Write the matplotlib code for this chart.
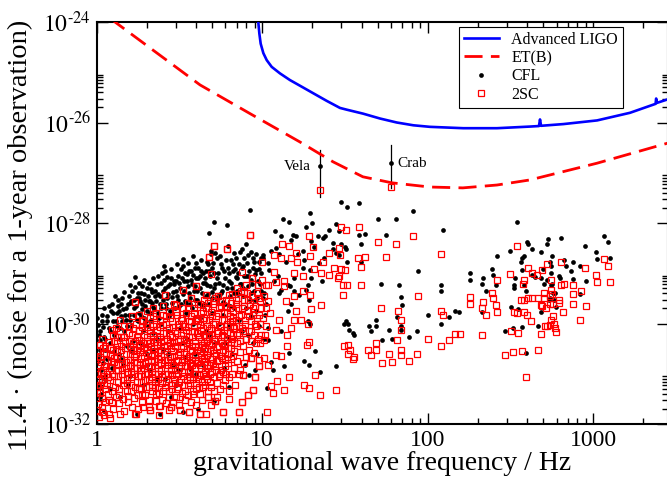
import matplotlib
matplotlib.use("Agg")
import matplotlib.pyplot as plt
from matplotlib.ticker import FixedLocator, NullFormatter, LogLocator

plt.rcParams['font.family'] = ['Liberation Serif', 'DejaVu Serif']
plt.rcParams['mathtext.fontset'] = 'stix'

# detector noise curves
aligo_freq = [9.35, 9.47, 9.61, 9.79, 10.16, 10.65, 11.41, 12.8, 14.7, 16.9, 20.4, 24.5, 29.5,
              32.4, 40.7, 51.5, 65, 81.9, 103, 164, 262, 415, 470, 477, 484, 660, 1055, 1668,
              2380, 2400, 2420, 2830]
aligo_h = [3e-24, 1.0e-24, 5.9e-25, 3.7e-25, 2.4e-25, 1.74e-25, 1.28e-25, 9.5e-26, 7.0e-26,
           5.4e-26, 3.8e-26, 2.7e-26, 1.95e-26, 1.8e-26, 1.5e-26, 1.2e-26, 1.0e-26, 8.8e-27,
           8.2e-27, 7.7e-27, 7.7e-27, 8.3e-27, 8.5e-27, 1.15e-26, 8.6e-27, 9.3e-27, 1.1e-26,
           1.56e-26, 2.35e-26, 3.0e-26, 2.45e-26, 2.9e-26]

etb_freq = [1.2, 1.29, 4.21, 8.45, 16.9, 26.8, 40.6, 60.8, 103, 163, 262, 415, 1055, 2830]
etb_h = [1.2e-24, 1.0e-24, 5.6e-26, 1.5e-26, 4.1e-27, 1.65e-27, 8.3e-28, 6.3e-28, 5.2e-28,
         5.0e-28, 5.7e-28, 7.2e-28, 1.55e-27, 3.9e-27]

# known pulsars
pulsar_names = ['Vela', 'Crab']
pulsar_freq = [22.4, 59.6]
pulsar_cfl = [1.36e-27, 1.55e-27]
pulsar_2sc = [4.6e-28, 5.2e-28]
pulsar_lo = [3.3e-28, 5.0e-28]
pulsar_hi = [2.8e-27, 3.5e-27]

# CFL stars (frequency in Hz, strain)
cfl_low = [
    (1.02, 9.5e-31), (1.04, 4.6e-31), (1.05, 7.0e-31), (1.03, 2.2e-31), (1.06, 1.2e-31),
    (1.02, 6.0e-32), (1.08, 1.1e-30), (1.10, 5.5e-31), (1.12, 3.0e-31), (1.09, 1.6e-31),
    (1.04, 3.5e-32), (1.13, 8.0e-32), (1.15, 1.4e-30), (1.18, 8.0e-31), (1.20, 4.0e-31),
    (1.16, 2.0e-31), (1.22, 1.8e-30), (1.23, 2.5e-30), (1.25, 1.1e-30), (1.27, 6.0e-31),
    (1.24, 1.3e-31), (1.28, 2.8e-31), (1.10, 1.8e-32), (1.20, 5.0e-32),
    (1.32, 1.6e-30), (1.35, 2.2e-30), (1.33, 9.0e-31), (1.38, 5.0e-31), (1.36, 2.5e-31),
    (1.40, 1.4e-30), (1.42, 3.2e-30), (1.45, 1.9e-30), (1.47, 7.0e-31), (1.50, 1.2e-30),
    (1.52, 3.5e-31), (1.55, 2.4e-30), (1.58, 2.6e-30), (1.60, 5.8e-30), (1.57, 1.5e-30),
    (1.62, 9.0e-31), (1.65, 4.5e-31), (1.68, 2.0e-30), (1.70, 8.6e-30), (1.71, 5.4e-30),
    (1.44, 1.5e-31), (1.60, 9.0e-32), (1.75, 1.6e-32), (1.38, 3.5e-32),
    (1.75, 3.2e-30), (1.80, 1.6e-30), (1.78, 1.1e-30), (1.85, 4.0e-30), (1.88, 2.4e-30),
    (1.90, 7.0e-31), (1.93, 1.3e-30), (1.95, 3.0e-30), (2.00, 5.0e-30), (2.02, 1.8e-30),
    (2.05, 9.0e-31), (2.08, 2.8e-30), (2.12, 1.2e-30), (2.15, 4.2e-30), (2.18, 2.1e-30),
    (2.20, 6.5e-31), (1.82, 4.0e-31), (2.00, 2.5e-31), (2.10, 1.2e-31), (1.90, 6.0e-32),
    (2.40, 1.6e-32), (1.80, 3.2e-30), (2.10, 2.8e-30), (2.40, 3.6e-30),
    (2.25, 3.5e-30), (2.30, 6.0e-30), (2.35, 1.6e-30), (2.42, 2.5e-30), (2.45, 1.0e-30),
    (2.50, 4.5e-30), (2.55, 7.5e-30), (2.60, 1.1e-29), (2.62, 2.0e-30), (2.65, 3.2e-30),
    (2.70, 5.5e-30), (2.75, 1.4e-30), (2.80, 8.0e-30), (2.85, 2.6e-30), (2.90, 4.3e-30),
    (2.95, 6.0e-30), (3.00, 6.9e-30), (2.30, 5.0e-31), (2.50, 3.0e-31), (2.70, 7.0e-31),
    (2.90, 1.5e-31), (2.60, 8.0e-32), (2.80, 3.5e-32), (3.30, 1.7e-32),
    (3.05, 3.5e-30), (3.10, 9.0e-30), (3.15, 2.2e-30), (3.20, 5.0e-30), (3.25, 1.2e-29),
    (3.30, 1.4e-29), (3.32, 3.9e-30), (3.35, 7.0e-30), (3.40, 2.8e-30), (3.45, 1.6e-30),
    (3.50, 9.5e-30), (3.55, 5.5e-30), (3.60, 1.1e-29), (3.65, 3.2e-30), (3.70, 7.5e-30),
    (3.75, 2.0e-30), (3.80, 9.1e-30), (3.85, 4.5e-30), (3.90, 5.6e-30), (3.95, 1.3e-29),
    (4.00, 1.6e-29), (3.20, 8.0e-31), (3.50, 5.0e-31), (3.80, 1.0e-30), (3.40, 2.2e-31),
    (3.70, 1.2e-31), (4.10, 2.0e-32),
    (4.05, 3.0e-30), (4.10, 8.0e-30), (4.20, 5.0e-30), (4.25, 1.1e-29), (4.30, 2.2e-30),
    (4.40, 6.5e-30), (4.50, 7.9e-30), (4.55, 3.5e-30), (4.60, 1.1e-29), (4.62, 5.8e-30),
    (4.70, 1.5e-29), (4.75, 2.5e-30), (4.80, 6.3e-29), (4.85, 9.0e-30), (4.90, 2.8e-29),
    (4.95, 4.2e-30), (5.00, 1.3e-29), (5.10, 1.07e-28), (5.12, 1.0e-29), (5.20, 6.0e-30),
    (5.30, 7.9e-30), (5.35, 2.0e-29), (5.40, 3.5e-30), (4.20, 1.3e-30), (4.60, 7.0e-31),
    (5.00, 1.6e-30), (4.40, 3.0e-31), (5.20, 4.0e-31), (5.10, 2.9e-32),
    (5.60, 1.5e-29), (5.70, 4.5e-30), (5.80, 5.8e-30), (5.90, 1.1e-29), (6.00, 2.5e-30),
    (6.10, 9.0e-29), (6.20, 1.26e-29), (6.30, 7.0e-30), (6.40, 3.5e-30), (6.50, 1.8e-29),
    (6.60, 5.0e-30), (6.70, 1.1e-29), (6.80, 2.5e-29), (6.90, 8.5e-30), (7.00, 7.9e-30),
    (7.10, 3.8e-30), (7.20, 1.5e-29), (7.30, 6.0e-30), (7.50, 3.1e-29), (5.80, 1.5e-30),
    (6.30, 9.0e-31), (6.80, 2.0e-30), (7.20, 1.2e-30), (6.00, 4.0e-31), (6.30, 5.5e-32),
    (7.70, 1.4e-29), (7.70, 5.0e-30), (7.80, 2.0e-29), (8.00, 9.0e-30), (8.20, 2.3e-29),
    (8.25, 8.7e-30), (8.40, 1.8e-28), (8.50, 4.0e-30), (8.60, 2.7e-29), (8.70, 6.0e-30),
    (8.80, 1.3e-29), (8.90, 1.7e-29), (9.00, 3.0e-30), (9.20, 1.15e-29), (9.40, 7.0e-30),
    (9.60, 1.7e-29), (9.80, 4.5e-30), (9.90, 1.0e-29), (8.00, 2.0e-30), (8.60, 1.4e-30),
    (8.30, 9.6e-32), (9.10, 1.2e-31), (9.20, 1.8e-30), (8.20, 6.0e-31), (9.50, 9.0e-31),
    # denser part of the cloud
    (1.01, 1.3e-30), (1.03, 6.0e-31), (1.05, 3.0e-31), (1.07, 1.5e-30), (1.09, 8.5e-31),
    (1.11, 2.0e-30), (1.13, 5.0e-31), (1.16, 1.1e-30), (1.19, 2.2e-30), (1.21, 7.0e-31),
    (1.26, 1.6e-30), (1.29, 3.5e-30), (1.02, 1.8e-31), (1.12, 9.0e-32), (1.06, 4.0e-32),
    (1.31, 1.1e-30), (1.34, 3.0e-30), (1.37, 1.8e-30), (1.39, 8.0e-31), (1.41, 2.5e-30),
    (1.43, 1.1e-30), (1.46, 4.2e-30), (1.48, 1.5e-30), (1.51, 2.0e-30), (1.53, 9.0e-31),
    (1.56, 3.5e-30), (1.59, 1.2e-30), (1.61, 2.8e-30), (1.64, 4.5e-30), (1.67, 1.5e-30),
    (1.69, 3.0e-30), (1.72, 2.2e-30), (1.74, 1.2e-30), (1.77, 4.0e-30), (1.79, 6.5e-30),
    (1.40, 2.0e-31), (1.55, 6.0e-32), (1.62, 3.0e-31),
    (1.82, 2.8e-30), (1.84, 1.4e-30), (1.87, 5.5e-30), (1.89, 1.9e-30), (1.92, 3.8e-30),
    (1.94, 7.5e-30), (1.97, 2.2e-30), (1.99, 1.1e-30), (2.03, 3.5e-30), (2.06, 6.5e-30),
    (2.09, 1.6e-30), (2.13, 4.8e-30), (2.16, 2.6e-30), (2.19, 8.0e-30), (2.23, 1.9e-30),
    (2.26, 4.5e-30), (2.29, 2.8e-30), (2.33, 9.0e-30), (2.36, 3.8e-30), (2.39, 1.3e-30),
    (2.43, 6.5e-30), (2.46, 2.0e-30), (2.49, 1.0e-29), (2.01, 1.5e-31), (2.30, 8.0e-32),
    (2.20, 3.0e-31),
    (2.52, 3.0e-30), (2.56, 1.4e-29), (2.59, 5.0e-30), (2.63, 2.4e-30), (2.67, 8.5e-30),
    (2.71, 3.8e-30), (2.76, 1.8e-30), (2.79, 6.0e-30), (2.83, 1.2e-29), (2.87, 3.3e-30),
    (2.92, 7.0e-30), (2.96, 2.0e-30), (3.01, 4.5e-30), (3.06, 1.5e-29), (3.11, 3.0e-30),
    (3.16, 6.5e-30), (3.21, 2.5e-30), (3.26, 8.0e-30), (3.31, 1.9e-29), (3.36, 4.5e-30),
    (3.41, 1.0e-29), (3.46, 2.6e-30), (2.70, 2.5e-31), (3.10, 1.2e-31), (3.00, 6.0e-32),
    (3.30, 4.0e-31),
    (3.51, 7.0e-30), (3.56, 1.6e-29), (3.62, 4.0e-30), (3.67, 2.4e-30), (3.73, 1.1e-29),
    (3.78, 6.0e-30), (3.84, 2.2e-29), (3.91, 3.0e-30), (3.96, 8.0e-30), (4.02, 4.5e-30),
    (4.08, 1.3e-29), (4.14, 2.6e-30), (4.21, 9.0e-30), (4.27, 1.8e-29), (4.33, 4.0e-30),
    (4.41, 1.0e-29), (4.47, 2.5e-30), (4.54, 6.5e-30), (4.61, 1.7e-29), (4.68, 3.8e-30),
    (4.76, 1.1e-29), (4.84, 5.5e-30), (4.92, 2.4e-29), (4.99, 3.2e-30), (3.90, 2.5e-31),
    (4.40, 1.5e-31), (4.80, 6.0e-31), (4.00, 1.0e-31),
    (5.06, 1.6e-29), (5.14, 5.0e-30), (5.22, 2.5e-29), (5.31, 3.0e-30), (5.38, 1.0e-29),
    (5.47, 6.5e-30), (5.55, 2.2e-29), (5.64, 4.0e-30), (5.73, 1.3e-29), (5.82, 2.7e-30),
    (5.92, 8.0e-30), (6.01, 1.8e-29), (6.11, 5.0e-30), (6.21, 3.5e-29), (6.31, 1.0e-29),
    (6.41, 2.2e-30), (6.52, 6.5e-30), (6.62, 1.5e-29), (6.73, 4.0e-30), (6.84, 1.2e-29),
    (6.95, 2.0e-29), (5.50, 1.0e-30), (6.20, 5.5e-31), (6.60, 2.5e-31), (5.90, 1.3e-31),
    (7.06, 4.5e-30), (7.18, 1.0e-29), (7.31, 2.6e-29), (7.42, 6.0e-30), (7.54, 1.3e-29),
    (7.67, 3.5e-30), (7.81, 9.0e-30), (7.93, 3.8e-29), (8.06, 1.6e-29), (8.19, 5.5e-30),
    (8.33, 1.1e-29), (8.47, 3.0e-30), (8.61, 7.5e-30), (8.75, 2.0e-29), (8.91, 4.5e-30),
    (9.05, 9.5e-30), (9.21, 2.4e-29), (9.35, 3.2e-30), (9.51, 1.2e-29), (9.65, 6.0e-30),
    (9.81, 2.0e-29), (7.50, 7.0e-31), (8.80, 4.0e-31), (9.30, 2.5e-31), (7.90, 1.5e-31),
]
cfl_mid = [
    (29.9, 2.6e-28), (32.5, 2.1e-28), (38.4, 2.5e-28), (19.4, 1.6e-28), (81.2, 1.7e-28),
    (13.4, 1.2e-28), (14.5, 1.07e-28), (20.0, 1.0e-28), (50.0, 1.2e-28), (64.1, 1.2e-28),
    (18.4, 8.5e-29), (27.9, 9.5e-29), (25.4, 7.4e-29), (12.0, 6.8e-29), (13.0, 5.4e-29),
    (15.3, 5.9e-29), (16.0, 5.4e-29), (14.9, 4.5e-29), (21.7, 5.4e-29), (23.2, 5.1e-29),
    (23.9, 5.4e-29), (38.4, 5.9e-29), (41.7, 6.1e-29), (55.8, 5.9e-29), (29.1, 6.8e-29),
    (19.7, 4.3e-29), (20.6, 3.4e-29), (12.1, 3.2e-29), (11.3, 2.8e-29), (17.7, 2.8e-29),
    (10.1, 2.3e-29), (12.7, 2.4e-29), (16.4, 2.4e-29), (26.8, 3.1e-29), (32.0, 3.0e-29),
    (31.6, 3.4e-29), (39.5, 3.9e-29), (26.7, 4.0e-29), (30.0, 3.8e-29), (23.5, 2.0e-29),
    (22.0, 1.6e-29), (10.9, 1.6e-29), (14.0, 1.7e-29), (17.9, 1.8e-29), (32.5, 1.7e-29),
    (39.5, 1.65e-29), (28.0, 2.5e-29), (29.0, 2.3e-29), (11.0, 1.15e-29), (17.7, 1.26e-29),
    (19.4, 1.15e-29), (87.1, 1.1e-29), (12.5, 8.7e-30), (15.6, 7.9e-30), (19.7, 7.9e-30),
    (18.9, 5.8e-30), (14.3, 5.8e-30), (52.1, 6.0e-30), (66.9, 5.8e-30), (11.8, 7.0e-30),
    (14.7, 5.5e-30), (15.6, 4.4e-30), (16.7, 3.7e-30), (22.9, 7.0e-30), (12.7, 4.0e-30),
    (10.1, 3.2e-30), (13.0, 4.6e-30), (18.4, 4.6e-30), (10.1, 2.0e-29), (68.7, 3.4e-30),
    (69.6, 2.3e-30), (14.9, 2.5e-30), (14.3, 1.8e-30), (19.2, 3.0e-30), (65.0, 1.35e-30),
    (18.9, 1.1e-30), (19.4, 1.0e-30), (48.7, 1.2e-30), (48.7, 8.9e-31), (44.1, 8.9e-31),
    (32.0, 1.1e-30), (33.0, 1.0e-30), (31.2, 1.0e-30), (33.4, 7.4e-31), (35.3, 6.5e-31),
    (35.8, 5.9e-31), (45.3, 7.1e-31), (58.5, 7.4e-31), (68.7, 8.9e-31), (68.7, 7.4e-31),
    (85.9, 7.1e-31), (52.7, 4.8e-31), (60.6, 5.0e-31), (77.1, 5.4e-31), (13.0, 7.1e-31),
    (10.9, 4.8e-31), (20.9, 2.9e-31), (14.5, 2.6e-31), (17.9, 1.8e-31), (19.2, 1.5e-31),
    (27.9, 1.4e-31), (13.6, 1.4e-31), (11.3, 1.7e-31), (11.6, 1.2e-31), (22.3, 1.1e-31),
    (10.7, 5.1e-32), (10.2, 4.0e-30), (10.6, 2.5e-30), (10.4, 1.5e-30), (10.9, 8.0e-31),
    (10.3, 5.0e-31),
]
cfl_high = [
    (123, 7.1e-29), (120, 5.8e-30), (121, 4.4e-30), (101, 1.5e-30), (121, 1.0e-30),
    (344, 1.07e-28), (400, 4.1e-29), (405, 3.8e-29), (316, 2.8e-29), (429, 3.0e-29),
    (486, 2.7e-29), (527, 3.9e-29), (264, 2.2e-29), (382, 2.2e-29), (369, 2.0e-29),
    (365, 1.7e-29), (243, 1.2e-29), (372, 1.15e-29), (179, 1.0e-29), (180, 7.2e-30),
    (247, 9.1e-30), (217, 7.9e-30), (337, 7.9e-30), (429, 9.1e-30), (445, 8.5e-30),
    (486, 7.9e-30), (500, 1.2e-29), (212, 6.1e-30), (260, 5.8e-30), (333, 5.8e-30),
    (330, 5.0e-30), (380, 5.8e-30), (390, 4.4e-30), (505, 6.0e-30), (224, 4.4e-30),
    (147, 1.8e-30), (155, 1.7e-30), (134, 1.35e-30), (212, 1.7e-30), (320, 2.1e-30),
    (353, 1.9e-30), (486, 1.7e-30), (326, 8.1e-31), (295, 7.1e-31), (372, 8.5e-31),
    (466, 8.9e-31), (394, 2.6e-31),
    (641, 5.0e-29), (536, 4.8e-29), (1165, 5.4e-29), (1230, 4.1e-29), (895, 3.5e-29),
    (1042, 2.7e-29), (566, 2.2e-29), (1060, 1.9e-29), (1260, 2.0e-29), (550, 1.7e-29),
    (665, 1.8e-29), (750, 1.65e-29), (685, 1.4e-29), (830, 1.4e-29), (553, 1.4e-29),
    (552, 1.0e-29), (737, 1.1e-29), (623, 8.7e-30), (630, 7.9e-30), (752, 7.6e-30),
    (910, 6.9e-30), (523, 7.2e-30), (566, 6.1e-30), (557, 5.8e-30), (590, 4.1e-30),
    (568, 4.1e-30), (550, 3.2e-30), (540, 2.9e-30), (580, 3.0e-30), (830, 3.8e-30),
    (597, 2.1e-30),
]

# 2SC stars (frequency in Hz, strain)
sc_low = [
    (1.01, 3.0e-31), (1.02, 1.5e-31), (1.03, 8.0e-32), (1.01, 4.5e-32), (1.02, 2.5e-32),
    (1.03, 1.4e-32), (1.05, 2.2e-31), (1.06, 1.1e-31), (1.05, 6.0e-32), (1.07, 3.3e-32),
    (1.08, 5.0e-31), (1.10, 2.6e-31), (1.10, 1.4e-31), (1.11, 9.0e-32), (1.12, 5.0e-32),
    (1.10, 1.5e-32), (1.13, 3.5e-31), (1.15, 1.9e-31), (1.16, 1.0e-31), (1.15, 6.5e-32),
    (1.17, 4.0e-32), (1.20, 1.3e-32), (1.19, 4.2e-31), (1.21, 2.4e-31), (1.22, 1.3e-31),
    (1.20, 7.5e-32), (1.23, 2.7e-32), (1.25, 6.0e-31), (1.26, 3.0e-31), (1.27, 1.7e-31),
    (1.28, 9.0e-32), (1.29, 5.5e-32), (1.23, 7.4e-31), (1.08, 1.7e-32),
    (1.31, 8.0e-31), (1.32, 4.0e-31), (1.33, 2.2e-31), (1.34, 1.2e-31), (1.35, 7.0e-32),
    (1.36, 3.8e-32), (1.38, 1.6e-32), (1.38, 1.2e-30), (1.40, 5.5e-31), (1.41, 3.0e-31),
    (1.42, 1.6e-31), (1.43, 1.0e-31), (1.45, 6.0e-32), (1.46, 9.0e-31), (1.48, 4.5e-31),
    (1.50, 2.5e-31), (1.51, 1.3e-31), (1.52, 8.0e-32), (1.53, 4.5e-32), (1.55, 2.7e-32),
    (1.56, 6.5e-31), (1.58, 3.5e-31), (1.60, 1.9e-31), (1.61, 1.1e-31), (1.62, 6.0e-32),
    (1.63, 1.4e-30), (1.65, 8.0e-31), (1.66, 4.0e-31), (1.67, 2.2e-31), (1.68, 1.3e-31),
    (1.69, 3.3e-32), (1.70, 2.7e-30), (1.72, 1.6e-32),
    (1.72, 1.0e-30), (1.74, 5.5e-31), (1.75, 3.0e-31), (1.76, 1.7e-31), (1.78, 9.0e-32),
    (1.79, 5.0e-32), (1.80, 1.5e-30), (1.81, 7.0e-31), (1.83, 3.8e-31), (1.84, 2.1e-31),
    (1.85, 1.2e-31), (1.86, 7.0e-32), (1.88, 4.0e-32), (1.90, 2.2e-32), (1.91, 1.1e-30),
    (1.92, 6.0e-31), (1.94, 3.2e-31), (1.95, 1.6e-31), (1.96, 1.0e-31), (1.98, 5.5e-32),
    (2.00, 1.8e-30), (2.01, 8.5e-31), (2.02, 4.5e-31), (2.04, 2.6e-31), (2.05, 1.4e-31),
    (2.06, 8.0e-32), (2.08, 3.0e-32), (2.10, 1.3e-30), (2.11, 6.5e-31), (2.12, 3.5e-31),
    (2.14, 1.9e-31), (2.15, 1.1e-31), (2.16, 6.0e-32), (2.18, 2.0e-30), (2.20, 9.0e-31),
    (2.21, 4.2e-31), (2.10, 1.9e-32),
    (2.22, 2.4e-31), (2.24, 1.3e-31), (2.25, 7.0e-32), (2.27, 4.0e-32), (2.28, 1.6e-30),
    (2.30, 7.5e-31), (2.32, 3.8e-31), (2.34, 2.0e-31), (2.35, 1.0e-31), (2.37, 5.5e-32),
    (2.38, 2.3e-32), (2.40, 1.2e-30), (2.42, 5.5e-31), (2.44, 3.0e-31), (2.46, 1.6e-31),
    (2.48, 8.5e-32), (2.50, 2.2e-30), (2.51, 4.5e-32), (2.52, 9.5e-31), (2.54, 4.5e-31),
    (2.56, 2.5e-31), (2.58, 1.3e-31), (2.60, 3.7e-30), (2.61, 7.0e-32), (2.62, 1.4e-30),
    (2.64, 6.5e-31), (2.66, 3.5e-31), (2.68, 1.9e-31), (2.70, 1.0e-31), (2.72, 3.5e-32),
    (2.74, 1.8e-30), (2.75, 8.0e-31), (2.77, 4.0e-31), (2.79, 2.2e-31), (2.80, 1.2e-31),
    (2.82, 6.0e-32), (2.80, 2.2e-32), (2.85, 1.1e-30), (2.87, 5.5e-31), (2.89, 2.8e-31),
    (2.90, 1.5e-31), (2.92, 8.0e-32), (2.94, 2.5e-30), (2.96, 7.0e-31), (2.98, 3.5e-31),
    (3.00, 2.3e-30), (3.01, 1.8e-31),
    (3.02, 1.0e-31), (3.04, 5.0e-32), (3.06, 1.5e-30), (3.08, 8.5e-31), (3.10, 4.5e-31),
    (3.12, 2.4e-31), (3.14, 1.3e-31), (3.16, 7.0e-32), (3.18, 3.5e-32), (3.20, 1.9e-32),
    (3.21, 1.2e-30), (3.22, 6.0e-31), (3.25, 3.2e-31), (3.27, 1.7e-31), (3.30, 4.6e-30),
    (3.31, 9.0e-32), (3.32, 2.0e-30), (3.34, 1.0e-30), (3.36, 5.0e-31), (3.38, 2.7e-31),
    (3.40, 1.4e-31), (3.42, 4.5e-32), (3.45, 1.6e-30), (3.47, 7.5e-31), (3.50, 4.0e-31),
    (3.52, 2.1e-31), (3.54, 1.1e-31), (3.56, 6.0e-32), (3.58, 2.6e-30), (3.60, 1.1e-30),
    (3.60, 1.7e-32), (3.62, 5.5e-31), (3.64, 3.0e-31), (3.66, 1.6e-31), (3.68, 8.5e-32),
    (3.70, 3.2e-30), (3.72, 1.4e-30), (3.74, 7.0e-31), (3.76, 3.6e-31), (3.78, 1.9e-31),
    (3.80, 1.0e-31), (3.82, 4.0e-32), (3.85, 2.0e-30), (3.87, 9.0e-31), (3.90, 4.5e-31),
    (3.92, 2.4e-31), (3.94, 1.3e-31), (3.96, 6.5e-32), (3.98, 1.2e-30), (4.00, 5.6e-30),
    (4.02, 3.0e-31), (4.05, 1.6e-31), (4.08, 8.0e-32), (4.10, 2.4e-30), (4.12, 1.1e-30),
    (4.15, 5.5e-31), (4.18, 2.8e-31), (4.20, 1.5e-31), (4.22, 4.0e-32), (4.20, 1.6e-32),
    (4.25, 1.6e-30), (4.28, 7.5e-31), (4.30, 3.8e-31), (4.33, 2.0e-31), (4.36, 1.0e-31),
    (4.40, 5.5e-32), (4.42, 3.0e-30), (4.45, 1.3e-30), (4.48, 6.0e-31), (4.50, 3.2e-31),
    (4.52, 1.7e-31), (4.55, 9.0e-32), (4.58, 2.0e-30), (4.60, 3.7e-30), (4.61, 9.0e-31),
    (4.62, 4.5e-31), (4.65, 2.4e-31), (4.68, 1.3e-31), (4.70, 3.4e-32), (4.72, 2.6e-30),
    (4.75, 1.2e-30), (4.78, 5.5e-31), (4.80, 2.1e-29), (4.81, 2.9e-31), (4.83, 1.5e-31),
    (4.86, 7.0e-32), (4.90, 9.6e-30), (4.91, 1.7e-30), (4.93, 8.0e-31), (4.95, 4.0e-31),
    (4.98, 2.0e-31), (5.00, 1.1e-31), (5.02, 2.4e-30), (5.05, 1.0e-30), (5.10, 3.5e-29),
    (5.11, 5.0e-31), (5.12, 2.6e-31), (5.15, 1.4e-31), (5.20, 2.9e-32), (5.21, 3.2e-30),
    (5.25, 1.4e-30), (5.30, 6.5e-31), (5.32, 3.4e-31), (5.35, 1.8e-31), (5.40, 3.6e-30),
    (5.45, 9.0e-32), (5.50, 2.0e-30), (4.60, 1.6e-32),
    (5.55, 9.0e-31), (5.60, 4.5e-31), (5.62, 2.3e-31), (5.65, 1.2e-31), (5.70, 2.8e-30),
    (5.72, 1.2e-30), (5.75, 6.0e-31), (5.80, 1.7e-32), (5.81, 3.0e-31), (5.85, 1.6e-30),
    (5.88, 7.5e-31), (5.90, 3.8e-31), (5.95, 2.0e-31), (6.00, 1.0e-31), (6.05, 2.2e-30),
    (6.10, 3.0e-29), (6.11, 1.0e-30), (6.15, 5.0e-31), (6.20, 2.5e-31), (6.30, 3.7e-30),
    (6.31, 3.2e-32), (6.35, 1.4e-30), (6.40, 6.5e-31), (6.45, 3.2e-31), (6.50, 2.6e-30),
    (6.55, 1.1e-30), (6.60, 5.0e-31), (6.65, 2.3e-31), (6.70, 1.8e-30), (6.75, 8.0e-31),
    (6.80, 4.0e-31), (6.90, 3.0e-30), (6.95, 1.2e-30), (7.00, 5.8e-31), (7.01, 5.0e-30),
    (7.10, 2.0e-30), (7.20, 1.7e-32), (7.21, 9.0e-31), (7.22, 1.0e-31), (7.30, 4.5e-31),
    (7.40, 1.5e-30), (7.50, 1.05e-29),
    (7.60, 2.8e-32), (7.70, 9.6e-32), (7.61, 7.0e-31), (7.80, 4.3e-30), (7.81, 2.2e-30),
    (7.90, 1.0e-30), (8.00, 5.0e-31), (8.02, 5.8e-30), (8.20, 3.8e-32), (8.21, 3.0e-30),
    (8.30, 1.4e-30), (8.40, 5.9e-29), (8.50, 7.0e-31), (8.60, 2.1e-31), (8.70, 7.9e-30),
    (8.80, 4.7e-32), (8.81, 2.0e-30), (9.00, 1.0e-30), (9.10, 8.7e-32), (9.20, 4.0e-31),
    (9.40, 5.8e-30), (9.50, 1.5e-30), (9.60, 1.4e-31), (9.61, 1.9e-31), (9.70, 2.8e-30),
    (9.90, 6.0e-31),
    # denser part of the cloud
    (1.00, 2.0e-31), (1.01, 1.0e-31), (1.00, 5.5e-32), (1.01, 1.9e-32), (1.04, 3.8e-31),
    (1.04, 4.2e-32), (1.06, 1.7e-31), (1.07, 7.5e-32), (1.07, 2.2e-32), (1.09, 3.2e-31),
    (1.09, 1.2e-31), (1.11, 6.0e-32), (1.12, 2.8e-32), (1.14, 2.6e-31), (1.14, 1.4e-31),
    (1.17, 8.5e-32), (1.18, 3.0e-32), (1.18, 1.6e-32), (1.21, 3.2e-31), (1.22, 1.8e-31),
    (1.24, 1.0e-31), (1.24, 4.5e-32), (1.26, 2.0e-32), (1.27, 4.5e-31), (1.28, 2.1e-31),
    (1.30, 1.2e-31), (1.30, 3.5e-32),
    (1.32, 5.5e-31), (1.33, 2.8e-31), (1.34, 1.5e-31), (1.35, 9.0e-32), (1.36, 5.0e-32),
    (1.37, 2.6e-32), (1.39, 7.0e-31), (1.40, 3.6e-31), (1.41, 2.0e-31), (1.43, 1.2e-31),
    (1.44, 7.5e-32), (1.45, 3.2e-32), (1.47, 1.8e-32), (1.47, 5.5e-31), (1.49, 3.2e-31),
    (1.50, 1.7e-31), (1.52, 1.1e-31), (1.53, 6.5e-32), (1.54, 3.6e-32), (1.56, 9.0e-31),
    (1.57, 4.5e-31), (1.58, 2.5e-31), (1.59, 1.5e-31), (1.61, 8.5e-32), (1.62, 4.5e-32),
    (1.63, 2.2e-32), (1.64, 6.0e-31), (1.66, 3.0e-31), (1.67, 1.7e-31), (1.69, 1.0e-31),
    (1.70, 5.5e-32), (1.71, 4.5e-31), (1.73, 2.5e-31), (1.74, 1.3e-31), (1.76, 7.0e-32),
    (1.77, 3.8e-32), (1.78, 2.0e-32), (1.79, 7.5e-31),
    (1.81, 4.8e-31), (1.82, 2.7e-31), (1.83, 1.5e-31), (1.85, 9.0e-32), (1.86, 5.0e-32),
    (1.87, 2.8e-32), (1.88, 1.2e-30), (1.89, 8.5e-31), (1.91, 4.0e-31), (1.93, 2.3e-31),
    (1.94, 1.3e-31), (1.96, 7.5e-32), (1.97, 3.8e-32), (1.99, 1.0e-30), (2.00, 5.5e-31),
    (2.02, 3.0e-31), (2.03, 1.8e-31), (2.05, 1.0e-31), (2.07, 5.5e-32), (2.08, 2.2e-32),
    (2.09, 7.5e-31), (2.11, 4.0e-31), (2.13, 2.3e-31), (2.14, 1.4e-31), (2.16, 8.5e-32),
    (2.17, 4.5e-32), (2.19, 1.4e-30), (2.20, 6.0e-31), (2.22, 3.3e-31), (2.23, 1.8e-31),
    (2.25, 1.0e-31), (2.26, 5.5e-32), (2.28, 2.9e-32), (2.29, 1.0e-30), (2.31, 5.0e-31),
    (2.33, 2.7e-31), (2.35, 1.5e-31), (2.36, 8.0e-32), (2.38, 4.2e-32), (2.39, 1.5e-32),
    (2.41, 8.5e-31), (2.43, 4.2e-31), (2.45, 2.3e-31), (2.46, 1.2e-31), (2.48, 6.5e-32),
    (2.49, 3.0e-32),
    (2.51, 1.5e-30), (2.53, 6.5e-31), (2.55, 3.5e-31), (2.57, 1.9e-31), (2.59, 1.0e-31),
    (2.60, 5.5e-32), (2.62, 2.6e-32), (2.63, 1.0e-30), (2.65, 5.0e-31), (2.67, 2.8e-31),
    (2.69, 1.5e-31), (2.71, 8.0e-32), (2.73, 4.5e-32), (2.75, 1.9e-32), (2.76, 1.3e-30),
    (2.78, 6.0e-31), (2.80, 3.2e-31), (2.82, 1.7e-31), (2.84, 9.5e-32), (2.86, 5.0e-32),
    (2.88, 2.8e-32), (2.90, 8.5e-31), (2.92, 4.2e-31), (2.94, 2.3e-31), (2.96, 1.2e-31),
    (2.98, 6.5e-32), (3.00, 3.5e-32), (3.02, 1.7e-30), (3.04, 6.5e-31), (3.06, 3.5e-31),
    (3.08, 1.9e-31), (3.10, 1.0e-31), (3.12, 5.5e-32), (3.14, 2.4e-32), (3.16, 1.0e-30),
    (3.18, 5.0e-31), (3.20, 2.7e-31), (3.23, 1.5e-31), (3.25, 8.0e-32), (3.27, 4.2e-32),
    (3.29, 1.3e-30), (3.31, 6.5e-31), (3.33, 3.5e-31), (3.35, 1.9e-31), (3.37, 1.1e-31),
    (3.39, 6.0e-32), (3.41, 3.0e-32), (3.43, 9.0e-31), (3.46, 4.6e-31), (3.48, 2.5e-31),
    (3.50, 1.4e-31), (3.52, 7.5e-32), (3.54, 3.8e-32), (3.56, 2.0e-30), (3.58, 8.5e-31),
    (3.61, 4.2e-31), (3.63, 2.3e-31), (3.65, 1.2e-31), (3.67, 6.5e-32), (3.69, 2.8e-32),
    (3.72, 1.1e-30), (3.74, 5.5e-31), (3.76, 2.8e-31), (3.79, 1.5e-31), (3.81, 8.0e-32),
    (3.83, 4.5e-32), (3.86, 1.6e-30), (3.88, 7.0e-31), (3.90, 3.5e-31), (3.93, 1.9e-31),
    (3.95, 1.0e-31), (3.97, 5.0e-32), (4.00, 2.4e-32), (4.03, 1.3e-30), (4.05, 6.5e-31),
    (4.08, 3.4e-31), (4.10, 1.8e-31), (4.13, 9.5e-32), (4.16, 5.5e-32), (4.18, 2.5e-30),
    (4.21, 9.5e-31), (4.24, 4.5e-31), (4.26, 2.4e-31), (4.29, 1.3e-31), (4.32, 7.0e-32),
    (4.35, 3.0e-32), (4.38, 1.8e-30), (4.40, 8.0e-31), (4.43, 4.0e-31), (4.46, 2.1e-31),
    (4.49, 1.1e-31), (4.52, 6.0e-32), (4.55, 1.2e-30), (4.58, 5.5e-31), (4.61, 2.8e-31),
    (4.64, 1.5e-31), (4.67, 8.0e-32), (4.70, 4.5e-32), (4.73, 2.0e-30), (4.76, 7.5e-31),
    (4.79, 3.8e-31), (4.82, 2.0e-31), (4.85, 1.0e-31), (4.88, 5.5e-32), (4.91, 2.4e-32),
    (4.95, 1.4e-30), (4.98, 6.0e-31),
    (5.01, 3.0e-31), (5.04, 1.6e-31), (5.08, 8.5e-32), (5.11, 4.5e-32), (5.14, 2.8e-30),
    (5.17, 1.0e-30), (5.21, 4.5e-31), (5.24, 2.4e-31), (5.28, 1.2e-31), (5.31, 6.5e-32),
    (5.35, 3.5e-32), (5.38, 1.6e-30), (5.42, 7.0e-31), (5.45, 3.5e-31), (5.49, 1.9e-31),
    (5.53, 1.0e-31), (5.56, 5.0e-32), (5.60, 2.2e-30), (5.64, 8.5e-31), (5.68, 4.0e-31),
    (5.72, 2.1e-31), (5.76, 1.1e-31), (5.80, 6.0e-32), (5.84, 1.2e-30), (5.88, 5.5e-31),
    (5.92, 2.7e-31), (5.96, 1.4e-31), (6.00, 7.5e-32), (6.05, 3.0e-30), (6.09, 1.6e-30),
    (6.13, 6.5e-31), (6.18, 3.2e-31), (6.22, 1.6e-31), (6.26, 8.5e-32), (6.31, 4.5e-32),
    (6.36, 2.0e-30), (6.40, 9.0e-31), (6.45, 4.2e-31), (6.50, 2.0e-31), (6.55, 1.0e-31),
    (6.60, 3.8e-30), (6.65, 1.3e-30), (6.70, 6.0e-31), (6.75, 2.8e-31), (6.80, 1.3e-31),
    (6.85, 6.0e-32), (6.90, 2.4e-30), (6.95, 9.0e-31),
    (7.02, 4.0e-31), (7.08, 1.8e-31), (7.14, 3.2e-30), (7.20, 1.4e-30), (7.26, 6.5e-31),
    (7.32, 2.7e-31), (7.38, 1.2e-31), (7.45, 4.5e-30), (7.51, 2.0e-30), (7.58, 8.0e-31),
    (7.65, 3.5e-31), (7.72, 1.6e-31), (7.80, 3.0e-30), (7.87, 1.2e-30), (7.95, 5.0e-31),
    (8.03, 2.2e-31), (8.11, 4.0e-30), (8.19, 1.8e-30), (8.27, 7.0e-31), (8.35, 3.0e-31),
    (8.44, 2.5e-30), (8.52, 1.1e-30), (8.61, 4.5e-31), (8.70, 3.6e-30), (8.79, 1.5e-30),
    (8.88, 6.0e-31), (8.97, 2.6e-31), (9.06, 2.2e-30), (9.15, 9.0e-31), (9.25, 4.0e-30),
    (9.35, 1.3e-30), (9.45, 5.0e-31), (9.55, 3.2e-30), (9.65, 1.0e-30), (9.75, 4.0e-31),
    (9.85, 2.0e-30),
    # isolated low points and upper outliers
    (8.40, 5.9e-29), (5.10, 3.5e-29), (6.10, 3.0e-29), (4.80, 2.1e-29), (4.00, 5.6e-30),
    (3.30, 4.6e-30), (2.60, 3.7e-30), (1.70, 2.7e-30), (8.70, 7.9e-30), (9.40, 5.8e-30),
    (7.80, 4.3e-30), (5.40, 3.6e-30), (4.60, 3.7e-30), (3.70, 3.2e-30), (3.00, 2.3e-30),
    (5.80, 1.7e-32), (7.20, 1.7e-32), (4.20, 1.6e-32), (3.60, 1.7e-32), (7.60, 2.8e-32),
    (8.20, 3.8e-32), (8.80, 4.7e-32), (9.10, 8.7e-32), (9.60, 1.4e-31), (8.60, 2.1e-31),
    (7.70, 9.6e-32), (5.20, 2.9e-32), (4.70, 3.4e-32), (2.80, 2.2e-32), (3.20, 1.9e-32),
    (2.40, 2.3e-32), (2.10, 1.9e-32), (1.70, 1.6e-32),
]
sc_mid = [
    (29.9, 8.5e-29), (32.0, 7.1e-29), (38.4, 8.5e-29), (19.2, 5.4e-29), (13.2, 3.9e-29),
    (14.5, 3.5e-29), (20.3, 3.4e-29), (29.1, 3.2e-29), (16.0, 2.5e-29), (25.4, 2.5e-29),
    (29.5, 2.3e-29), (11.8, 2.3e-29), (12.9, 2.0e-29), (14.9, 2.0e-29), (19.4, 2.2e-29),
    (23.2, 1.7e-29), (16.2, 1.7e-29), (37.9, 2.0e-29), (10.0, 1.7e-29), (20.6, 1.2e-29),
    (27.2, 1.3e-29), (29.9, 1.2e-29), (11.8, 1.05e-29), (15.6, 1.0e-29), (22.6, 1.0e-29),
    (25.4, 9.1e-30), (29.1, 8.7e-30), (17.7, 8.7e-30), (10.0, 7.2e-30), (12.1, 6.6e-30),
    (13.6, 6.9e-30), (30.7, 5.8e-30), (10.9, 5.8e-30),
    (81.2, 5.6e-29), (50.0, 4.1e-29), (64.1, 3.9e-29), (41.7, 2.1e-29), (55.8, 2.1e-29),
    (39.5, 1.35e-29), (31.6, 1.15e-29), (39.5, 5.8e-30), (32.5, 5.8e-30),
    (10.5, 5.8e-30), (13.6, 5.6e-30), (15.6, 3.5e-30), (17.7, 4.4e-30), (19.4, 3.7e-30),
    (22.6, 2.3e-30), (30.7, 3.7e-30), (28.7, 7.9e-30), (14.0, 2.8e-30), (16.0, 1.8e-30),
    (12.7, 1.2e-30), (17.2, 1.2e-30), (15.6, 1.2e-30),
    (19.7, 1.9e-30), (18.9, 1.0e-30), (14.9, 8.0e-31), (12.1, 7.4e-31), (14.1, 5.9e-31),
    (10.2, 4.6e-31), (18.7, 3.8e-31), (19.2, 4.2e-31), (14.1, 3.6e-31), (31.2, 3.6e-31),
    (33.0, 3.8e-31), (34.0, 3.0e-31), (33.0, 2.5e-31), (35.8, 2.2e-31), (12.1, 2.4e-31),
    (12.9, 2.3e-31), (10.2, 2.1e-31), (10.9, 1.5e-31), (14.5, 8.7e-32), (20.9, 9.5e-32),
    (12.3, 7.1e-32), (11.3, 5.6e-32), (17.9, 5.9e-32), (19.2, 5.1e-32), (13.6, 4.7e-32),
    (11.6, 4.1e-32), (22.3, 3.8e-32), (27.9, 4.7e-32), (10.7, 1.7e-32),
    (87.1, 3.6e-30), (52.1, 2.0e-30), (65.8, 1.8e-30), (68.7, 1.2e-30), (68.9, 7.4e-31),
    (65.0, 4.6e-31), (48.7, 4.0e-31), (43.4, 3.0e-31), (48.7, 3.0e-31), (45.3, 2.4e-31),
    (58.5, 2.5e-31), (68.7, 3.0e-31), (68.7, 2.4e-31), (85.9, 2.5e-31), (60.6, 1.7e-31),
    (77.1, 1.8e-31), (52.7, 1.6e-31), (35.3, 2.0e-31),
    (10.3, 3.5e-30), (10.5, 2.0e-30), (10.1, 1.3e-30), (10.6, 9.0e-31), (10.4, 6.0e-31),
    (10.8, 2.8e-30), (11.2, 1.6e-30),
]
sc_high = [
    (121, 2.4e-29), (120, 1.8e-30), (123, 1.5e-30), (101, 5.0e-31), (121, 3.6e-31),
    (344, 3.5e-29), (405, 1.3e-29), (316, 9.5e-30), (380, 7.2e-30), (374, 6.1e-30),
    (264, 7.2e-30), (429, 1.0e-29), (460, 9.2e-30), (490, 1.15e-29), (179, 3.4e-30),
    (180, 2.5e-30), (243, 4.0e-30), (247, 3.2e-30), (217, 2.7e-30), (260, 2.3e-30),
    (212, 2.0e-30), (262, 1.7e-30), (224, 1.5e-30), (365, 2.9e-30), (380, 2.9e-30),
    (405, 3.2e-30), (429, 3.2e-30), (466, 3.2e-30), (505, 3.2e-30), (330, 1.7e-30),
    (382, 1.7e-30), (397, 1.5e-30), (344, 1.6e-30), (422, 1.1e-30), (486, 2.3e-30),
    (515, 2.0e-30), (134, 4.6e-31), (147, 6.3e-31), (157, 6.1e-31), (212, 5.9e-31),
    (320, 7.1e-31), (353, 6.6e-31), (486, 6.1e-31), (466, 3.0e-31), (295, 2.4e-31),
    (326, 2.7e-31), (372, 2.8e-31), (394, 8.7e-32), (510, 8.9e-31),
    (641, 1.65e-29), (527, 1.5e-29), (1165, 1.9e-29), (1230, 1.4e-29), (895, 1.3e-29),
    (1042, 9.1e-30), (1060, 6.6e-30), (1260, 6.6e-30), (557, 7.2e-30), (750, 5.8e-30),
    (665, 6.1e-30), (641, 5.8e-30), (845, 4.4e-30), (557, 4.6e-30), (505, 4.1e-30),
    (566, 3.9e-30), (752, 3.9e-30), (623, 3.0e-30), (550, 3.5e-30), (750, 2.5e-30),
    (623, 2.6e-30), (910, 2.2e-30), (488, 2.2e-30), (550, 2.4e-30), (575, 2.4e-30),
    (655, 1.7e-30), (575, 1.4e-30), (830, 1.2e-30), (557, 1.2e-30), (550, 9.5e-31),
    (577, 1.0e-30), (523, 8.9e-31), (590, 8.1e-31), (597, 6.9e-31),
]

fig = plt.figure(figsize=(6.67, 4.79), dpi=100)
ax = fig.add_axes([96.7 / 667, 1 - 424 / 479, 571.3 / 667, 402 / 479])
ax.set_xscale('log')
ax.set_yscale('log')

ax.plot(aligo_freq, aligo_h, color='#0000ff', lw=1.9, label='Advanced LIGO', zorder=5)
ax.plot(etb_freq, etb_h, color='#ff0000', lw=2.0, dashes=(6.5, 3), label='ET(B)', zorder=5)

cf, ch = zip(*(cfl_low + cfl_mid + cfl_high))
ax.plot(cf, ch, 'o', color='black', ms=3.4, mew=0, label='CFL', zorder=3)
sf, sh = zip(*(sc_low + sc_mid + sc_high))
ax.plot(sf, sh, 's', mfc='none', mec='#ff0000', ms=4.0, mew=0.9, label='2SC', zorder=4)

for name, f, hc, hs, lo, hi in zip(pulsar_names, pulsar_freq, pulsar_cfl, pulsar_2sc, pulsar_lo, pulsar_hi):
    ax.plot([f, f], [lo, hi], color='black', lw=0.9, zorder=3)
    ax.plot(f, hc, 'o', color='black', ms=3.4, mew=0, zorder=3)
    ax.plot(f, hs, 's', mfc='none', mec='#ff0000', ms=4.0, mew=0.9, zorder=4)
    if name == 'Vela':
        ax.annotate(name, (f, hc), xytext=(-7, 0), textcoords='offset points',
                    ha='right', va='center', fontsize=11)
    else:
        ax.annotate(name, (f, hc), xytext=(5, 0), textcoords='offset points',
                    ha='left', va='center', fontsize=11)

ax.set_xlim(1, 2830)
ax.set_ylim(1e-32, 1e-24)

ax.set_xticks([1, 10, 100, 1000], labels=['1', '10', '100', '1000'])
ax.xaxis.set_minor_locator(LogLocator(base=10, subs=range(2, 10)))
ax.xaxis.set_minor_formatter(NullFormatter())
ytick_exp = [-32, -30, -28, -26, -24]
ax.set_yticks([10.0 ** e for e in ytick_exp],
              labels=[r'$10^{\text{-%d}}$' % abs(e) for e in ytick_exp])
ax.yaxis.set_minor_locator(FixedLocator([k * 10.0 ** e for e in (-32, -30, -28, -26) for k in range(2, 10)]))
ax.yaxis.set_minor_formatter(NullFormatter())

ax.tick_params(which='both', direction='in', top=True, right=True, width=1.0)
ax.tick_params(which='major', length=8, labelsize=17, pad=4)
ax.tick_params(which='minor', length=4.3)
for sp in ax.spines.values():
    sp.set_linewidth(1.5)

ax.set_xlabel('gravitational wave frequency / Hz', fontsize=20, labelpad=0)
ax.set_ylabel('11.4 · (noise for a 1-year observation)', fontsize=20.5)
ax.yaxis.set_label_coords(-0.112, 0.47)

leg = ax.legend(loc='upper right', bbox_to_anchor=(0.921, 0.988), fontsize=11.5,
                frameon=True, fancybox=False, framealpha=1, edgecolor='black',
                borderaxespad=0, handlelength=2.2, labelspacing=0.15, borderpad=0.3)
leg.get_frame().set_linewidth(0.8)

fig.savefig('out.png', dpi=100)
